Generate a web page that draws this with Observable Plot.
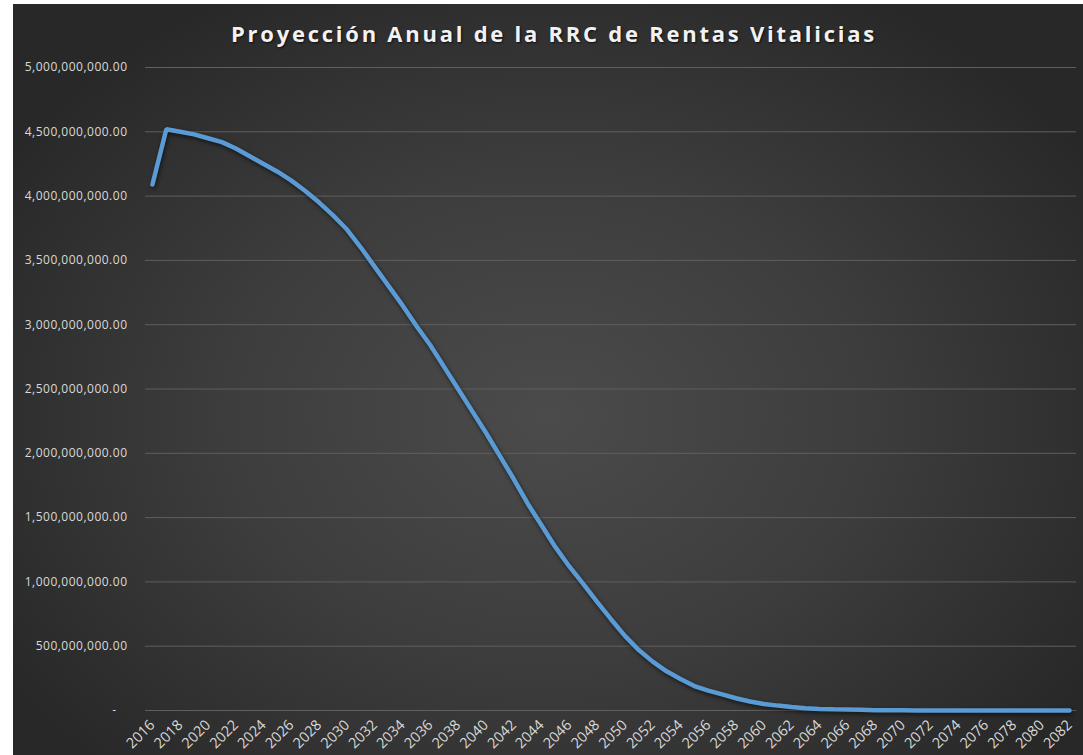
<!DOCTYPE html>
<html>
<head>
<meta charset="utf-8">
<script src="https://cdn.jsdelivr.net/npm/d3@7"></script>
<script src="https://cdn.jsdelivr.net/npm/@observablehq/plot@0.6"></script>
<style>
  html, body { margin:0; padding:0; background:#ffffff; }
  #wrap { position:relative; width:1083px; height:755px; overflow:hidden; background:#ffffff; }
  #bg { position:absolute; left:13px; top:4px; right:0; bottom:0;
        background: radial-gradient(ellipse 60% 65% at 50% 55%, #4b4b4b 0%, #3d3d3d 50%, #282828 100%); }
  #title { position:absolute; left:13px; right:0; top:18px; text-align:center; padding-left:12px;
           font-family:"Open Sans", sans-serif; font-weight:700; font-size:22px; letter-spacing:2.75px;
           color:#f2f2f2; text-shadow:1px 1px 2px rgba(0,0,0,0.7); }
  #chart { position:absolute; left:0; top:0; }
  #chart g[aria-label="line"] path { filter: drop-shadow(1px 2px 2px rgba(0,0,0,0.6)); }
  #chart g[aria-label="y-axis tick label"] text { letter-spacing:0.5px; }
</style>
</head>
<body>
<div id="wrap">
  <div id="bg"></div>
  <div id="title">Proyección Anual de la RRC de Rentas Vitalicias</div>
  <div id="chart"></div>
</div>
<script>
const years = [2016,2017,2018,2019,2020,2021,2022,2023,2024,2025,2026,2027,2028,2029,2030,
  2031,2032,2033,2034,2035,2036,2037,2038,2039,2040,2041,2042,2043,2044,2045,2046,2047,2048,2049,2050,
  2051,2052,2053,2054,2055,2056,2057,2058,2059,2060,2061,2062,2063,2064,2065,2066,2067,2068,2069,2070,
  2071,2072,2073,2074,2075,2076,2077,2078,2079,2080,2081,2082];

// RRC values in billions
const rrcBillions = [4.09,4.52,4.50,4.48,4.45,4.42,4.37,4.31,4.25,4.19,4.12,4.04,3.95,3.85,3.74,
  3.60,3.45,3.30,3.15,2.99,2.84,2.67,2.50,2.33,2.16,1.98,1.80,1.61,1.44,1.27,1.12,0.985,0.845,0.71,0.58,
  0.47,0.38,0.305,0.245,0.19,0.155,0.125,0.095,0.07,0.05,0.038,0.027,0.018,0.012,0.009,0.008,0.005,0.002,0.001,0.001,
  0.0008,0.0006,0.0005,0.0004,0.0003,0.0002,0.0002,0.0001,0.0001,0.0001,0.0001,0.0001];

const xTickYears = [2016,2018,2020,2022,2024,2026,2028,2030,2032,2034,2036,2038,2040,2042,2044,2046,2048,
  2050,2052,2054,2056,2058,2060,2062,2064,2066,2068,2070,2072,2074,2076,2078,2080,2082];

const yTicks = [0,500000000,1000000000,1500000000,2000000000,2500000000,3000000000,3500000000,4000000000,4500000000,5000000000];

const data = years.map((year, i) => ({year, value: rrcBillions[i] * 1e9}));
const fmt = d3.format(",.2f");

const chart = Plot.plot({
  width: 1083,
  height: 755,
  marginLeft: 145,
  marginRight: 7,
  marginTop: 67,
  marginBottom: 45,
  style: {background: "transparent", color: "#d9d9d9", fontFamily: "'Open Sans', sans-serif", fontSize: "12px", overflow: "visible"},
  x: {domain: [2015.5, 2082.5]},
  y: {domain: [0, 5e9]},
  marks: [
    Plot.ruleY(yTicks, {stroke: "#5f5f5f", strokeWidth: 1}),
    Plot.axisY(yTicks, {tickFormat: d => d === 0 ? "-\u00a0\u00a0\u00a0" : fmt(d), tickSize: 0, tickPadding: 18, label: null, fontSize: 12}),
    Plot.axisX(xTickYears, {tickFormat: d => String(d), tickRotate: -45, tickSize: 0, tickPadding: 12, label: null, fontSize: 14.5}),
    Plot.line(data, {x: "year", y: "value", stroke: "#5b9bd5", strokeWidth: 4.5, strokeLinejoin: "miter", curve: "linear"})
  ]
});
document.getElementById("chart").appendChild(chart);
</script>
</body>
</html>
